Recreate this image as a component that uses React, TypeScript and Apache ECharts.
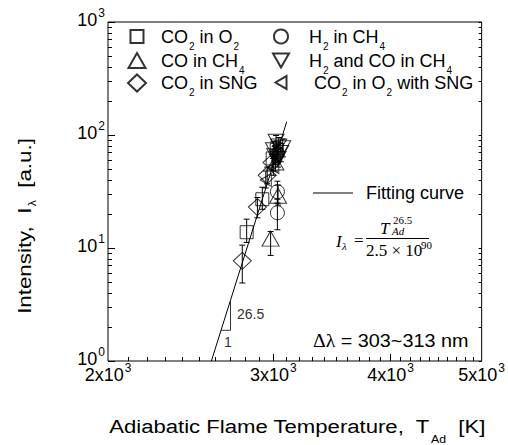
import React, { useEffect, useRef } from "react";
import * as echarts from "echarts";

// ---------- data ----------
const X_MIN = 2000;
const X_MAX = 5000;
const Y_MIN = 1;
const Y_MAX = 1000;
const X_LABEL_VALUES = [2000, 3000, 4000, 5000];
const X_MAJOR_TICKS = [3000, 4000];
const X_MINOR_TICKS: number[] = [];
for (let v = 2100; v < 5000; v += 100) X_MINOR_TICKS.push(v);
const Y_LABEL_VALUES = [1, 10, 100, 1000];
const Y_MINOR_TICKS: number[] = [];
for (const d of [1, 10, 100]) for (let m = 2; m <= 9; m++) Y_MINOR_TICKS.push(m * d);

// rows: [T_Ad (K), intensity (a.u.), error low, error high]
const CO2_IN_O2 = [
  [2810, 13.8, 11.2, 18],
  [2920, 27, 22, 34.5],
  [2995, 62, 52, 74],
  [3025, 74, 62, 88],
];
const H2_IN_CH4 = [
  [3030, 20.5, 14.5, 27],
  [3030, 31.5, 25, 39],
  [3030, 68, 57, 82],
];
const CO_IN_CH4 = [
  [2980, 12.1, 8.6, 14],
  [3035, 29, 24, 36],
  [3015, 57, 48, 68],
];
const H2_CO_IN_CH4 = [
  [3000, 74, 62, 88],
  [3020, 88, 74, 99],
  [3040, 80, 67, 95],
  [3055, 70, 58, 84],
  [3035, 62, 52, 75],
  [3070, 77, 64, 92],
  [3010, 66, 55, 79],
];
const CO2_IN_SNG = [
  [2780, 7.7, 4.9, 10.6],
  [2885, 23, 18.5, 28],
  [2955, 44, 37, 52],
  [2990, 57, 48, 67],
];
const CO2_O2_WITH_SNG = [
  [2945, 40, 34, 48],
  [3000, 52, 44, 62],
  [3022, 68, 57, 80],
];
const FIT_CURVE = [
  [2577, 1],
  [3100, 131],
];
const SLOPE_TRIANGLE = [
  [2639, 1.87],
  [2701, 1.87],
  [2701, 3.45],
];

// ---------- styling ----------
const SANS = '"Liberation Sans", Arial, sans-serif';
const SERIF = '"Liberation Serif", "Times New Roman", serif';
const SUB_PAD = 19;

const SERIES_DEFS = [
  { name: "CO2 in O2", label: "{t|CO}{s|2}{t| in O}{s|2}", data: CO2_IN_O2, symbol: "rect", size: [13, 13], cx: 136, cy: 43, textX: 160 },
  { name: "H2 in CH4", label: "{t|H}{s|2}{t| in CH}{s|4}", data: H2_IN_CH4, symbol: "circle", size: [14, 14], cx: 280, cy: 43, textX: 308 },
  { name: "CO in CH4", label: "{t|CO in CH}{s|4}", data: CO_IN_CH4, symbol: "triangle", size: [17, 15], cx: 136, cy: 67, textX: 160 },
  { name: "H2 and CO in CH4", label: "{t|H}{s|2}{t| and CO in CH}{s|4}", data: H2_CO_IN_CH4, symbol: "path://M0,0L16,0L8,14Z", size: [16, 14], cx: 280, cy: 67, textX: 308 },
  { name: "CO2 in SNG", label: "{t|CO}{s|2}{t| in SNG}", data: CO2_IN_SNG, symbol: "diamond", size: [18, 17], cx: 136, cy: 89, textX: 160 },
  { name: "CO2 in O2 with SNG", label: "{t|CO}{s|2}{t| in O}{s|2}{t| with SNG}", data: CO2_O2_WITH_SNG, symbol: "path://M12,0L12,14L0,7Z", size: [11, 13], cx: 280, cy: 89, textX: 313 },
];

const legendRich = (gap: number) => ({
  g: { width: gap, fontSize: 18, lineHeight: 22 },
  t: { fontSize: 18, fontFamily: SANS, color: "#000", lineHeight: 22 },
  s: { fontSize: 10, fontFamily: SANS, color: "#000", padding: [SUB_PAD, 0, 0, 1] },
});

export default function App() {
  const ref = useRef<HTMLDivElement>(null);
  useEffect(() => {
    if (!ref.current) return;
    const chart = echarts.init(ref.current, undefined, { renderer: "svg" });

    const errorData: number[][] = [];
    SERIES_DEFS.forEach((s) => s.data.forEach((r) => errorData.push([r[0], r[2], r[3]])));

    const legends: any[] = SERIES_DEFS.map((s) => {
      const iconLeft = s.cx - s.size[0] / 2;
      const gap = s.textX - (iconLeft + s.size[0] + 5);
      return {
        data: [s.name],
        left: iconLeft,
        top: s.cy - (SUB_PAD + 12) / 2,
        padding: 0,
        itemWidth: s.size[0],
        itemHeight: s.size[1],
        selectedMode: false,
        formatter: () => "{g|}" + s.label,
        textStyle: { rich: legendRich(gap) },
      };
    });
    legends.push({
      data: [{ name: "Fitting curve", icon: "rect" }],
      left: 313,
      top: 195 - 11,
      padding: 0,
      itemWidth: 40,
      itemHeight: 1,
      selectedMode: false,
      formatter: () => "{g|}{t|Fitting curve}",
      textStyle: { rich: legendRich(8) },
    });

    const axisCommon = {
      type: "log",
      logBase: 10,
      axisLine: { show: false },
      splitLine: { show: false },
      minorTick: { show: false },
    };

    const xLabelRich = {
      b: { fontSize: 18, fontFamily: SANS, color: "#000", lineHeight: 22 },
      e: { fontSize: 12, fontFamily: SANS, color: "#000", padding: [0, 0, 14, 1] },
    };
    const yLabelRich = {
      b: { fontSize: 18, fontFamily: SANS, color: "#000", lineHeight: 22, padding: [0, 0, 5, 0] },
      e: { fontSize: 12, fontFamily: SANS, color: "#000", padding: [0, 0, 19, 1] },
    };

    const xAxes: any[] = [
      {
        ...axisCommon,
        min: X_MIN,
        max: X_MAX,
        position: "bottom",
        axisTick: { show: true, inside: true, length: 4, customValues: X_MINOR_TICKS, lineStyle: { color: "#000" } },
        axisLabel: {
          show: true,
          customValues: X_LABEL_VALUES,
          margin: 1,
          formatter: (v: number) => `{b|${Math.round(v / 1000)}x10}{e|3}`,
          rich: xLabelRich,
        },
      },
      {
        ...axisCommon,
        min: X_MIN,
        max: X_MAX,
        position: "bottom",
        axisTick: { show: true, inside: true, length: 7, customValues: X_MAJOR_TICKS, lineStyle: { color: "#000" } },
        axisLabel: { show: false },
      },
    ];
    const yAxes: any[] = [
      {
        ...axisCommon,
        min: Y_MIN,
        max: Y_MAX,
        position: "left",
        axisTick: { show: true, inside: true, length: 7, customValues: Y_LABEL_VALUES, lineStyle: { color: "#000" } },
        axisLabel: {
          show: true,
          customValues: Y_LABEL_VALUES,
          margin: 3,
          formatter: (v: number) => `{b|10}{e|${Math.round(Math.log10(v))}}`,
          rich: yLabelRich,
        },
      },
      {
        ...axisCommon,
        min: Y_MIN,
        max: Y_MAX,
        position: "left",
        axisTick: { show: true, inside: true, length: 4, customValues: Y_MINOR_TICKS, lineStyle: { color: "#000" } },
        axisLabel: { show: false },
      },
      {
        ...axisCommon,
        min: Y_MIN,
        max: Y_MAX,
        position: "right",
        axisTick: { show: true, inside: true, length: 3, customValues: Y_MINOR_TICKS.concat(Y_LABEL_VALUES), lineStyle: { color: "#000" } },
        axisLabel: { show: false },
      },
    ];

    const scatterSeries = SERIES_DEFS.map((s) => ({
      type: "scatter",
      name: s.name,
      data: s.data.map((r) => [r[0], r[1]]),
      symbol: s.symbol,
      symbolSize: s.size,
      symbolKeepAspect: false,
      itemStyle: { color: "rgba(0,0,0,0)", borderColor: "#000", borderWidth: 1 },
      z: 4,
      silent: true,
    }));

    const sup = (x: number, y: number, t: string, italic = false) => ({
      type: "text",
      x,
      y,
      style: { text: t, font: `${italic ? "italic " : ""}11px ${SERIF}`, fill: "#000", verticalAlign: "middle" },
    });

    chart.setOption({
      animation: false,
      grid: { left: 108, top: 22, right: 24, bottom: 84, show: true, borderColor: "#000", borderWidth: 1, backgroundColor: "transparent" },
      xAxis: xAxes,
      yAxis: yAxes,
      legend: legends,
      series: [
        {
          type: "line",
          name: "Fitting curve",
          data: FIT_CURVE,
          symbol: "none",
          lineStyle: { color: "#000", width: 1 },
          itemStyle: { color: "#000" },
          z: 2,
          silent: true,
        },
        {
          type: "line",
          name: "slope",
          data: SLOPE_TRIANGLE,
          symbol: "none",
          lineStyle: { color: "#333", width: 1 },
          z: 2,
          silent: true,
        },
        {
          type: "custom",
          name: "error bars",
          data: errorData,
          silent: true,
          z: 3,
          renderItem: (params: any, api: any) => {
            const x = api.value(0);
            const lo = api.coord([x, api.value(1)]);
            const hi = api.coord([x, api.value(2)]);
            const w = 3;
            const st = { stroke: "#000", lineWidth: 1 };
            return {
              type: "group",
              children: [
                { type: "line", shape: { x1: lo[0], y1: lo[1], x2: hi[0], y2: hi[1] }, style: st },
                { type: "line", shape: { x1: lo[0] - w, y1: lo[1], x2: lo[0] + w, y2: lo[1] }, style: st },
                { type: "line", shape: { x1: hi[0] - w, y1: hi[1], x2: hi[0] + w, y2: hi[1] }, style: st },
              ],
            };
          },
        },
        ...scatterSeries,
      ],
      graphic: [
        // formula
        { type: "text", x: 336, y: 241, style: { text: "I", font: `italic 17px ${SERIF}`, fill: "#000", verticalAlign: "middle" } },
        sup(342, 246, "λ", true),
        { type: "text", x: 354, y: 240, style: { text: "=", font: `17px ${SERIF}`, fill: "#000", verticalAlign: "middle" } },
        { type: "text", x: 380, y: 228, style: { text: "T", font: `italic 17px ${SERIF}`, fill: "#000", verticalAlign: "middle" } },
        sup(393, 220, "26.5"),
        sup(392, 231, "Ad", true),
        { type: "line", shape: { x1: 366, y1: 238.5, x2: 429, y2: 238.5 }, style: { stroke: "#000", lineWidth: 1 } },
        { type: "text", x: 366, y: 250, style: { text: "2.5 × 10", font: `17px ${SERIF}`, fill: "#000", verticalAlign: "middle" } },
        sup(421, 245, "90"),
        // wavelength band
        {
          type: "text",
          x: 313,
          y: 341,
          scaleX: 1.1,
          style: {
            text: "{g|Δλ}{t| = 303~313 nm}",
            verticalAlign: "middle",
            rich: {
              g: { font: `18px ${SERIF}`, fill: "#000" },
              t: { font: `18px ${SANS}`, fill: "#000" },
            },
          },
        },
        // slope labels
        { type: "text", x: 237, y: 314, style: { text: "26.5", font: `14px ${SANS}`, fill: "#333", verticalAlign: "middle" } },
        { type: "text", x: 224, y: 342, style: { text: "1", font: `14px ${SANS}`, fill: "#333", verticalAlign: "middle" } },
        // axis titles
        {
          type: "text",
          x: 297,
          y: 427,
          scaleX: 1.23,
          style: {
            text: "{t|Adiabatic Flame Temperature,  T}{s|Ad}{t|  [K]}",
            align: "center",
            verticalAlign: "middle",
            rich: {
              t: { fontSize: 18, fontFamily: SANS, fill: "#000", lineHeight: 22 },
              s: { fontSize: 10, fontFamily: SANS, fill: "#000", padding: [24, 0, 0, 1] },
            },
          },
        },
        {
          type: "text",
          x: 25,
          y: 226,
          rotation: Math.PI / 2,
          scaleX: 1.24,
          style: {
            text: "{t|Intensity,  I}{s|λ}{t|  [a.u.]}",
            align: "center",
            verticalAlign: "middle",
            rich: {
              t: { fontSize: 18, fontFamily: SANS, fill: "#000", lineHeight: 22 },
              s: { fontSize: 10, fontFamily: SANS, fill: "#000", padding: [14, 0, 0, 1] },
            },
          },
        },
      ],
    });
    return () => chart.dispose();
  }, []);
  return <div ref={ref} style={{ width: 508, height: 445, position: "absolute", left: 0, top: 0 }} />;
}
